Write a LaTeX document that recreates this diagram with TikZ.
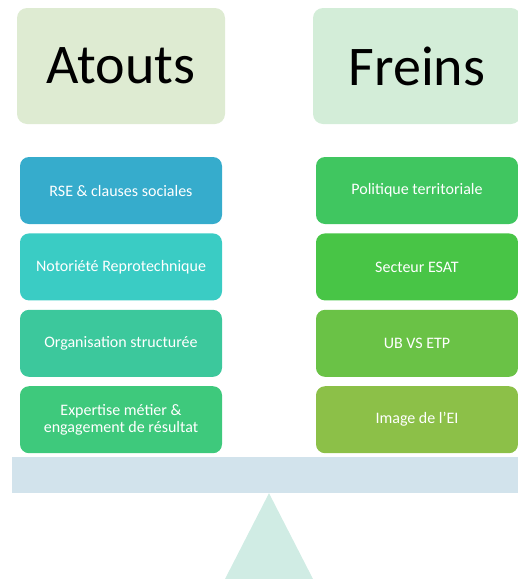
\documentclass[tikz,border=0pt]{standalone}
\usepackage{fontspec}
\setmainfont{Carlito}
\usetikzlibrary{positioning}
\definecolor{atoutsbg}{HTML}{DEEBD2}
\definecolor{freinsbg}{HTML}{D3EDD8}
\definecolor{cA}{HTML}{36ACCC}
\definecolor{cB}{HTML}{3ACCC4}
\definecolor{cC}{HTML}{3CC89C}
\definecolor{cD}{HTML}{3EC97C}
\definecolor{cE}{HTML}{40C660}
\definecolor{cF}{HTML}{48C546}
\definecolor{cG}{HTML}{6AC246}
\definecolor{cH}{HTML}{8CC048}
\definecolor{beamc}{HTML}{D2E3EC}
\definecolor{pivotc}{HTML}{D0ECE4}
\tikzset{
  head/.style={fill=#1, rounded corners=10pt, minimum width=208pt, minimum height=116pt,
    inner sep=0pt, font=\fontsize{56}{62}\selectfont},
  item/.style={fill=#1, rounded corners=9pt, minimum width=202pt, minimum height=67pt,
    inner sep=0pt, text=white, align=center, font=\fontsize{16}{17.5}\selectfont}
}

\begin{document}
\begin{tikzpicture}[x=1pt, y=-1pt, node distance = 9pt]
        \useasboundingbox (0,0) rectangle (518,579);
        \clip (0,0) rectangle (518,579);
        \node[head=atoutsbg] (atouts) at (121,66) {Atouts};
        \node[head=freinsbg] (freins) at (417,66) {Freins};

        % left column
        \node[item=cA] (rse) at (121,190.5) {RSE \& clauses sociales};
        \node[item=cB] (noto) [below=of rse] {Notoriété Reprotechnique};
        \node[item=cC] (orga) [below=of noto] {Organisation structurée};
        \node[item=cD] (expe) [below=of orga] {Expertise métier \&\\engagement de résultat};

        % right column
        \node[item=cE] (poli) at (417,190.5) {Politique territoriale};
        \node[item=cF] (esat) [below=of poli] {Secteur ESAT};
        \node[item=cG] (ubvs) [below=of esat] {UB VS ETP};
        \node[item=cH] (imag) [below=of ubvs] {Image de l’EI};

        \node[fill=beamc, minimum width=514pt, minimum height=36pt, inner sep=0pt] (beam) at (269,475) {};
        \fill[pivotc] (beam.south) -- ++(-60,117) -- ++(120,0) -- cycle;
      \end{tikzpicture}
\end{document}
